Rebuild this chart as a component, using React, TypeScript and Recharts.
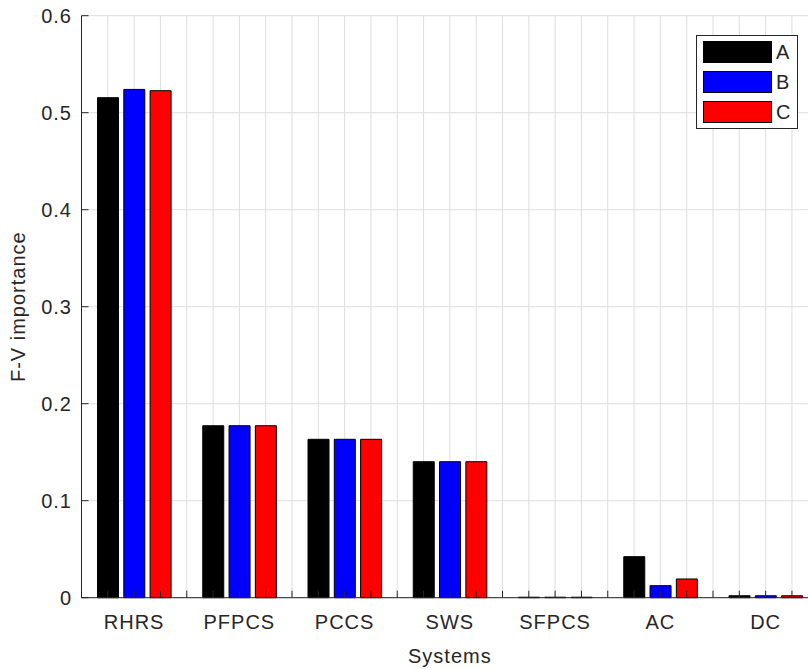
import { BarChart, Bar, XAxis, YAxis, CartesianGrid, Legend } from "recharts";

const categories = ["RHRS", "PFPCS", "PCCS", "SWS", "SFPCS", "AC", "DC"];
const seriesA = [0.5155, 0.1773, 0.1633, 0.1402, 0.0005, 0.0423, 0.002];
const seriesB = [0.524, 0.1773, 0.1633, 0.1402, 0.0005, 0.0124, 0.002];
const seriesC = [0.5227, 0.1773, 0.1633, 0.1402, 0.0005, 0.0193, 0.002];
const yTicks = [0, 0.1, 0.2, 0.3, 0.4, 0.5, 0.6];
// one slot per bar plus one gap slot per group (matlab style x positions)
const slotTicks = [0, 1, 2, 3, 4, 5, 6, 7, 8, 9, 10, 11, 12, 13, 14, 15, 16, 17, 18, 19, 20, 21, 22, 23, 24, 25, 26, 27, 28];

const data = categories.map((name, i) => ({
  name,
  slot: i * 4 + 2, // middle bar of group i sits on this slot
  A: seriesA[i],
  B: seriesB[i],
  C: seriesC[i],
}));

const ink = "#262626";
const font = "'Liberation Sans', Arial, Helvetica, sans-serif";
const textStyle = { fontSize: 20, fill: ink, letterSpacing: 1 };

function LegendBox(props: any) {
  const { payload } = props;
  return (
    <div
      style={{
        border: `1px solid ${ink}`,
        background: "#fff",
        padding: "1.5px 4px 1px 6px",
        fontFamily: font,
        fontSize: 20,
        color: ink,
      }}
    >
      {(payload || []).map((entry: any) => (
        <div key={entry.value} style={{ display: "flex", alignItems: "center", height: 29.8 }}>
          <span
            style={{
              display: "inline-block",
              width: 69,
              height: 22,
              background: entry.color,
              border: "1px solid #000",
              boxSizing: "border-box",
            }}
          />
          <span style={{ marginLeft: 4, lineHeight: "22px" }}>{entry.value}</span>
        </div>
      ))}
    </div>
  );
}

export default function App() {
  return (
    <div
      style={{
        position: "absolute",
        left: 0,
        top: 0,
        width: 808,
        height: 669,
        overflow: "hidden",
        background: "#fff",
        fontFamily: font,
      }}
    >
      <BarChart
        width={840}
        height={669}
        data={data}
        barGap={5.3}
        margin={{ top: 15.7, right: 21.75, left: 0, bottom: 5.3 }}
      >
        <CartesianGrid xAxisId="slot" stroke="#dedede" strokeWidth={1} />
        <XAxis xAxisId="cat" dataKey="name" hide height={0} />
        <XAxis
          xAxisId="slot"
          dataKey="slot"
          type="number"
          domain={[0, 28]}
          allowDataOverflow
          ticks={slotTicks}
          interval={0}
          height={66}
          tickSize={-7}
          tickMargin={24.3}
          tickFormatter={(v: number) => (v % 4 === 2 ? categories[(v - 2) / 4] : "")}
          tick={textStyle}
          axisLine={{ stroke: ink }}
          tickLine={{ stroke: ink }}
          label={{ value: "Systems", position: "insideBottom", offset: 1, style: textStyle }}
        />
        <YAxis
          domain={[0, 0.6]}
          ticks={yTicks}
          interval={0}
          width={81.5}
          tickSize={-7}
          tickMargin={16.5}
          tick={textStyle}
          axisLine={{ stroke: ink }}
          tickLine={{ stroke: ink }}
          label={{
            value: "F-V importance",
            angle: -90,
            position: "insideLeft",
            offset: 18,
            style: { ...textStyle, textAnchor: "middle" },
          }}
        />
        <Legend
          layout="vertical"
          align="center"
          verticalAlign="middle"
          content={<LegendBox />}
          wrapperStyle={{ top: 35, left: 696, width: 102 }}
        />
        <Bar xAxisId="cat" dataKey="A" name="A" fill="#000000" stroke="#000" strokeWidth={1} barSize={21} isAnimationActive={false} />
        <Bar xAxisId="cat" dataKey="B" name="B" fill="#0000ff" stroke="#000" strokeWidth={1} barSize={21} isAnimationActive={false} />
        <Bar xAxisId="cat" dataKey="C" name="C" fill="#ff0000" stroke="#000" strokeWidth={1} barSize={21} isAnimationActive={false} />
      </BarChart>
    </div>
  );
}
